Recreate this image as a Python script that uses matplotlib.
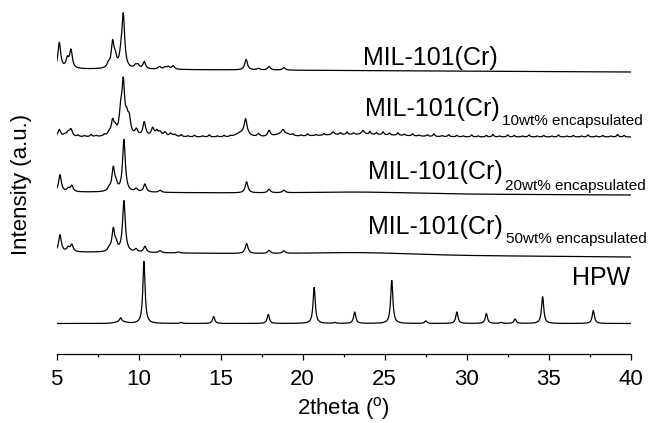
import numpy as np
import matplotlib.pyplot as plt
from matplotlib.ticker import MultipleLocator

plt.rcParams['font.family'] = ['Liberation Sans', 'DejaVu Sans']

two_theta = np.arange(5, 40.001, 0.02)

# MIL-101(Cr): peak positions (deg), peak heights (a.u.)
mil_pos = [5.16, 5.65, 5.87, 8.15, 8.41, 8.57, 8.92, 9.06, 9.80, 9.95, 10.34,
           11.26, 11.60, 11.80, 12.10, 16.55, 17.30, 17.95, 18.85]
mil_h = [26, 9, 18, 4, 25, 9, 10, 52, 3, 3.5, 7,
         2.5, 2, 2.5, 3.5, 10.5, 1.5, 3.5, 2.5]

# 10 wt% encapsulated
enc10_pos = [5.16, 5.50, 5.70, 5.87, 8.20, 8.41, 8.57, 8.90, 9.06, 9.27, 9.42,
             9.86, 10.34, 10.85, 11.10, 11.30, 11.60, 11.95, 12.20,
             16.52, 17.30, 17.95, 18.80, 21.86, 23.68]
enc10_h = [7, 2, 4, 7, 3, 14, 6, 20, 50, 14, 15,
           6, 14, 8, 5, 4, 4, 3, 2,
           15, 3, 6, 4, 3, 4]
# small irregular wiggles along the 10 wt% pattern
enc10_wig_pos = [6.3, 6.7, 7.1, 7.4, 7.9, 12.6, 13.0, 13.4, 13.9, 14.3, 14.8,
                 15.2, 15.6, 19.4, 19.9, 20.3, 20.8, 21.3, 22.3, 22.7, 23.1,
                 24.1, 24.5, 24.9, 25.3, 25.8, 26.2, 26.7, 27.1, 27.6, 28.0,
                 28.5, 28.9, 29.4, 29.8, 30.3, 30.7, 31.2, 31.6, 32.0, 32.5,
                 32.9, 33.4, 33.8, 34.3, 34.7, 35.2, 35.6, 36.1, 36.5, 37.0,
                 37.4, 37.9, 38.3, 38.8, 39.2, 39.6]
enc10_wig_h = [1.5, 1, 2, 1, 1.5, 2, 1, 1.5, 1, 2, 1,
               1.5, 1, 1.5, 1, 2, 1, 1.5, 2, 2.5, 1.5,
               3, 2, 3, 2, 2.5, 1.5, 2, 1, 1.5, 2.5,
               1, 2, 1.5, 1, 2, 1, 1.5, 2.5, 1, 2,
               1.5, 1, 2, 1, 1.5, 1, 2, 1, 1.5, 1,
               2, 1, 1.5, 1, 2.5, 1.5]

# 20 wt% encapsulated
enc20_pos = [5.20, 5.70, 5.92, 8.20, 8.45, 8.62, 9.10, 9.84, 10.38, 11.30,
             16.58, 17.95, 18.85]
enc20_h = [17, 3, 6, 3, 23, 6, 52, 3, 8, 2,
           11, 3.5, 2.5]

# 50 wt% encapsulated
enc50_pos = [5.20, 5.70, 5.92, 8.20, 8.45, 8.62, 9.10, 9.84, 10.38, 11.30,
             12.40, 16.58, 17.95, 18.85]
enc50_h = [17, 4, 7, 3, 22, 6, 51, 3, 6, 2,
           1, 10, 3, 2.5]

# HPW
hpw_pos = [8.90, 10.32, 12.60, 14.57, 17.90, 20.70, 21.96, 23.17, 25.43,
           27.50, 29.40, 31.20, 32.10, 32.95, 34.63, 37.72]
hpw_h = [4, 62, 1, 7, 9, 36, 1, 11.5, 43.5,
         2.5, 11.5, 10, 1, 4.5, 27, 13]

# broad background humps: (centre, sigma, height)
enc10_humps = [(16.3, 0.35, 4), (18.8, 0.4, 3), (23.5, 2.5, 2.5)]
enc20_humps = [(23.5, 3.0, 1.5)]
enc50_humps = [(23.5, 3.0, 2)]
hpw_humps = [(8.9, 0.35, 1.5)]

# baseline level at 5 and 40 deg (vertical stacking)
mil_base = (285, 282)
enc10_base = (217, 217)
enc20_base = (162, 159)
enc50_base = (102, 97)
hpw_base = (30.5, 30.5)


def lorentz(x, pos, h, fwhm):
    y = np.zeros_like(x)
    for p, a in zip(pos, h):
        y += a / (1 + ((x - p) / (fwhm / 2)) ** 2)
    return y


def humps(x, hl):
    y = np.zeros_like(x)
    for c, s, a in hl:
        y += a * np.exp(-(x - c) ** 2 / (2 * s ** 2))
    return y


def baseline(x, b):
    return b[0] + (b[1] - b[0]) * (x - x[0]) / (x[-1] - x[0])


mil = baseline(two_theta, mil_base) + lorentz(two_theta, mil_pos, mil_h, 0.2)
enc10 = (baseline(two_theta, enc10_base) + lorentz(two_theta, enc10_pos, enc10_h, 0.2)
         + lorentz(two_theta, enc10_wig_pos, enc10_wig_h, 0.12) + humps(two_theta, enc10_humps))
enc20 = (baseline(two_theta, enc20_base) + lorentz(two_theta, enc20_pos, enc20_h, 0.2)
         + humps(two_theta, enc20_humps))
enc50 = (baseline(two_theta, enc50_base) + lorentz(two_theta, enc50_pos, enc50_h, 0.2)
         + humps(two_theta, enc50_humps))
hpw = (baseline(two_theta, hpw_base) + lorentz(two_theta, hpw_pos, hpw_h, 0.16)
       + humps(two_theta, hpw_humps))

fig = plt.figure(figsize=(6.5, 4.23), dpi=100)
ax = fig.add_axes([56.7 / 650, 69 / 423, 574 / 650, 354 / 423])

for y in [mil, enc10, enc20, enc50, hpw]:
    ax.plot(two_theta, y, color='black', lw=0.9)

ax.set_xlim(5, 40)
ax.set_ylim(0, 354)

ax.spines['left'].set_visible(False)
ax.spines['right'].set_visible(False)
ax.spines['top'].set_visible(False)
ax.spines['bottom'].set_linewidth(0.9)
ax.set_yticks([])
ax.xaxis.set_major_locator(MultipleLocator(5))
ax.xaxis.set_minor_locator(MultipleLocator(2.5))
ax.tick_params(axis='x', which='major', direction='out', length=4.5, width=0.9,
               labelsize=16, pad=6)
ax.tick_params(axis='x', which='minor', direction='out', length=2.5, width=0.9)

ax.set_xlabel('2theta ($\\mathregular{^o}$)', fontsize=16, va='center')
ax.xaxis.set_label_coords(0.5, -0.155)
ax.set_ylabel('Intensity (a.u.)', fontsize=16, va='center')
ax.yaxis.set_label_coords(-0.062, 0.479)

# sample names
main_fs = 18
sub_fs = 11
ax.text(23.68, 289, 'MIL-101(Cr)', fontsize=main_fs, va='baseline')
names = [(23.80, 238.3, 32.13, 229, '10wt% encapsulated'),
         (24.00, 174.7, 32.34, 164, '20wt% encapsulated'),
         (24.00, 120.0, 32.38, 111, '50wt% encapsulated')]
for xm, ym, xs, ys, sub in names:
    ax.text(xm, ym, 'MIL-101(Cr)', fontsize=main_fs, va='baseline')
    ax.text(xs, ys, sub, fontsize=sub_fs, va='baseline', clip_on=False)
ax.text(39.96, 69, 'HPW', fontsize=main_fs, va='baseline', ha='right')

fig.savefig('out.png', dpi=100)
